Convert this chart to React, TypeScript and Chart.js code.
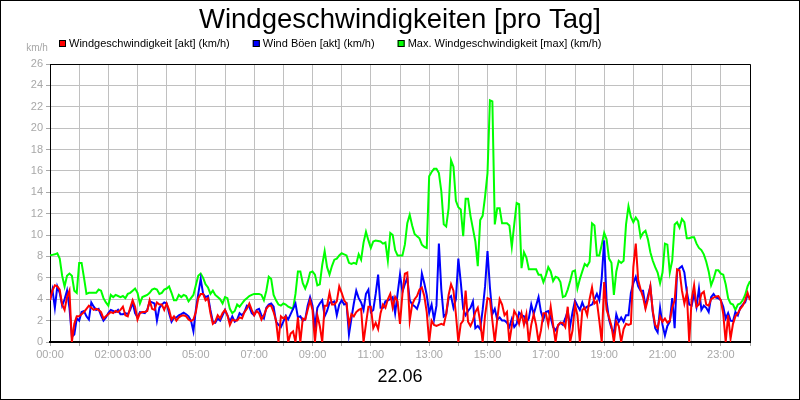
import React, { useEffect, useRef } from 'react';
import { Chart, registerables } from 'chart.js';

Chart.register(...registerables);

const TITLE = 'Windgeschwindigkeiten [pro Tag]';
const DATE_LABEL = '22.06';
const UNIT_LABEL = 'km/h';
const SERIES_NAMES = [
  'Windgeschwindigkeit [akt] (km/h)',
  'Wind Böen [akt] (km/h)',
  'Max. Windgeschwindigkeit [max] (km/h)',
];
const SERIES_COLORS = ['#ff0000', '#0000ff', '#00ff00'];

// one value every 5 minutes, 00:00 .. 24:00 (one hour per row)
const SAMPLE_MINUTES = 5;

const windSpeed = [
  3.9, 4.8, 5.3, 5.2, 4.9, 3.5, 3.0, 4.2, 4.8, 0, 1.7, 2.4,
  2.4, 2.6, 2.8, 3.1, 3.4, 3.2, 3.0, 3.1, 3.0, 2.8, 2.2, 2.4,
  2.6, 2.8, 2.7, 2.9, 2.8, 3.0, 3.3, 2.5, 2.4, 3.2, 3.9, 3.3,
  2.1, 2.7, 2.8, 2.8, 2.9, 3.9, 3.1, 3.0, 3.7, 3.5, 3.5, 3.0,
  3.6, 3.0, 2.1, 2.4, 2.0, 2.3, 2.45, 2.5, 2.4, 2.1, 1.95, 2.1,
  2.8, 4.1, 4.5, 4.5, 3.9, 4.1, 2.7, 1.7, 1.9, 2.5, 2.2, 2.7,
  3.0, 2.5, 1.6, 2.1, 2.0, 2.0, 2.3, 2.2, 2.8, 3.1, 3.6, 3.0,
  2.5, 2.9, 2.7, 2.1, 2.5, 3.1, 3.4, 3.4, 2.8, 2.0, 0, 2.4,
  2.2, 2.4, 0, 0.8, 1.0, 0, 2.3, 0, 2.2, 2.1, 3.0, 3.9,
  3.0, 0, 2.5, 1.5, 0, 3.4, 3.4, 4.6, 3.5, 3.5, 3.8, 5.2,
  4.6, 3.9, 3.6, 1.6, 2.6, 2.4, 2.8, 3.0, 3.1, 0, 1.7, 3.3,
  3.3, 1.3, 1.8, 1.2, 2.7, 3.5, 3.2, 4.0, 4.5, 3.2, 4.2, 3.8,
  1.7, 4.5, 6.4, 6.5, 2.0, 3.5, 4.0, 4.3, 4.9, 5.1, 4.3, 2.8,
  0, 2.0, 1.6, 1.5, 1.6, 1.7, 1.6, 2.6, 4.4, 5.4, 4.8, 2.6,
  0, 1.7, 2.0, 4.8, 1.9, 1.5, 2.0, 2.8, 3.2, 1.9, 0, 2.5,
  4.1, 4.0, 2.0, 0, 2.1, 4.0, 3.5, 2.5, 2.8, 0, 1.5, 2.9,
  2.5, 1.7, 2.7, 1.6, 2.6, 0, 1.6, 2.6, 1.6, 0, 1.1, 2.7,
  2.7, 1.6, 3.3, 1.6, 0, 1.6, 1.8, 1.8, 1.4, 3.3, 0, 1.1,
  3.5, 2.5, 0, 3.0, 3.2, 2.5, 4.0, 5.1, 3.6, 3.8, 2.0, 0,
  5.6, 3.0, 2.3, 1.5, 0, 1.9, 1.5, 0, 1.2, 1.7, 1.6, 1.7,
  7.0, 9.2, 5.8, 4.9, 4.2, 3.1, 4.0, 5.2, 2.9, 1.6, 1.3, 2.4,
  1.9, 2.2, 1.8, 2.0, 3.2, 3.9, 6.8, 6.7, 4.8, 3.6, 4.6, 0,
  4.0, 5.3, 3.3, 3.5, 4.5, 4.7, 3.5, 3.4, 4.0, 4.15, 4.25, 4.3,
  3.9, 2.6, 0, 2.5, 0.3, 1.7, 2.4, 2.7, 3.1, 3.4, 3.9, 4.6,
  3.9,
];

const windGusts = [
  3.9, 4.9, 3.2, 5.2, 4.6, 3.4, 4.0, 4.8, 3.2, 0.5, 0.7, 2.2,
  2.0, 2.8, 2.9, 2.4, 2.1, 3.7, 3.3, 3.0, 3.1, 2.5, 2.0, 2.3,
  2.7, 3.0, 2.9, 2.8, 3.0, 2.6, 2.6, 2.7, 2.6, 3.0, 3.7, 2.7,
  2.3, 2.8, 2.75, 2.7, 3.0, 3.8, 3.7, 3.6, 2.0, 3.2, 3.5, 3.7,
  3.6, 2.7, 1.9, 2.3, 2.3, 2.5, 2.6, 2.75, 2.6, 2.4, 2.0, 1.0,
  3.0, 4.5, 5.9, 4.5, 4.2, 4.3, 3.0, 1.9, 1.8, 2.2, 2.0, 2.5,
  3.0, 2.5, 1.9, 2.4, 1.9, 2.1, 2.7, 2.5, 2.8, 3.4, 3.3, 2.7,
  2.5, 3.0, 3.1, 2.5, 2.2, 3.2, 3.5, 3.6, 3.3, 1.9, 1.6, 1.4,
  1.9, 2.45, 2.1, 2.6, 3.1, 3.6, 2.3, 2.4, 2.0, 2.1, 3.4, 4.2,
  3.4, 1.4, 3.2, 3.6, 3.9, 2.4, 2.9, 3.7, 3.7, 3.8, 2.5, 3.5,
  3.9, 3.5, 3.6, 0.7, 2.2, 3.6, 4.8, 4.1, 3.7, 3.0, 4.5, 4.9,
  2.8, 3.0, 4.5, 6.3, 3.2, 3.2, 3.8, 3.9, 4.0, 4.2, 2.7, 4.5,
  6.3, 4.7, 5.4, 6.0, 3.9, 3.5, 3.35, 3.1, 3.8, 6.4, 5.5, 4.4,
  2.7, 3.5, 2.1, 3.4, 9.2, 4.9, 2.4, 2.6, 4.1, 4.3, 3.2, 4.0,
  7.8, 5.6, 3.1, 2.5, 2.9, 3.2, 3.8, 1.3, 1.5, 1.2, 3.0, 5.2,
  8.5, 5.1, 2.6, 3.1, 2.1, 2.3, 2.0, 2.0, 1.8, 1.4, 2.15, 1.4,
  1.7, 2.75, 2.5, 2.4, 1.8, 2.2, 3.5, 2.6, 3.4, 4.2, 2.8, 2.1,
  2.8, 2.9, 2.3, 1.4, 1.1, 1.5, 1.8, 1.6, 2.2, 2.9, 1.5, 2.8,
  3.85, 3.4, 3.0, 3.7, 3.1, 3.3, 3.4, 3.5, 4.0, 4.5, 3.9, 6.0,
  9.5, 3.8, 2.1, 1.3, 0.8, 2.6, 1.9, 2.3, 1.9, 2.5, 2.5, 4.6,
  5.5, 6.1, 5.2, 4.8, 4.8, 3.3, 4.3, 5.2, 2.8, 1.3, 0.9, 3.2,
  1.6, 0.6, 1.5, 1.9, 4.1, 1.3, 6.6, 6.9, 7.1, 6.5, 4.7, 3.5,
  3.4, 4.5, 3.3, 5.0, 3.0, 3.4, 3.2, 2.8, 4.2, 4.5, 4.15, 4.1,
  3.9, 3.3, 2.2, 2.7, 2.0, 1.95, 2.8, 2.5, 3.2, 3.5, 3.7, 4.4,
  4.1,
];

const windMax = [
  8.1, 8.15, 8.2, 8.3, 7.8, 6.2, 5.2, 6.2, 6.4, 6.2, 4.8, 4.6,
  7.4, 7.4, 6.0, 4.5, 4.6, 4.6, 4.6, 4.6, 4.9, 4.8, 4.1, 3.7,
  3.4, 4.4, 4.2, 4.4, 4.3, 4.2, 4.3, 4.1, 4.5, 4.6, 4.8, 5.0,
  4.6, 3.6, 4.2, 4.3, 4.4, 4.6, 4.9, 5.0, 4.9, 4.5, 4.6, 4.9,
  5.0, 5.2, 4.6, 3.9, 3.9, 4.4, 4.2, 4.4, 4.3, 3.8, 4.1, 4.4,
  5.3, 6.2, 6.4, 6.0, 5.4, 5.1, 4.5, 4.8, 4.4, 4.2, 4.0, 3.6,
  4.2, 4.1, 3.1, 2.7, 2.9, 3.5, 3.3, 3.6, 3.9, 4.1, 4.3, 4.4,
  4.5, 4.5, 4.5, 4.4, 3.9, 4.8, 6.1, 5.9, 4.4, 3.9, 3.5, 3.4,
  3.6, 3.5, 3.3, 3.2, 3.1, 4.5, 6.6, 6.6, 5.5, 5.0, 5.6, 6.5,
  6.6, 6.3, 5.3, 5.4, 7.2, 8.5, 7.0, 6.3, 7.1, 7.7, 7.8, 8.1,
  8.3, 8.2, 8.1, 7.4, 7.3, 7.4, 7.3, 8.2, 7.7, 9.3, 10.3, 9.5,
  8.8, 9.4, 9.5, 9.45, 9.4, 9.2, 9.3, 7.6, 10.2, 10.0, 8.6, 8.1,
  8.1, 8.1, 9.1, 11.1, 11.9, 10.9, 10.1, 9.9, 9.7, 9.1, 8.9, 8.8,
  15.5, 15.9, 16.2, 16.2, 15.8, 14.1, 11.0, 10.8, 12.5, 17.0, 16.4, 13.2,
  12.6, 12.4, 9.9, 13.4, 13.4, 11.8, 10.6, 9.4, 7.1, 11.4, 11.8, 13.6,
  15.8, 22.6, 22.5, 11.0, 12.5, 12.5, 11.1, 11.1, 11.1, 10.9, 8.9, 11.0,
  13.0, 12.9, 6.9, 8.4, 7.9, 6.8, 6.8, 6.8, 6.8, 6.3, 6.3, 5.6,
  6.2, 7.0, 6.6, 5.7, 6.1, 6.0, 5.6, 4.2, 4.3, 4.9, 5.7, 6.6,
  6.7, 5.0, 5.9, 6.6, 7.3, 7.1, 7.5, 11.1, 10.9, 8.1, 8.1, 9.1,
  10.2, 9.6, 7.8, 7.4, 4.4, 6.6, 7.6, 7.4, 7.6, 11.0, 12.7, 11.7,
  11.2, 11.65, 11.3, 9.8, 10.2, 10.4, 9.6, 8.4, 7.6, 7.0, 6.5, 5.5,
  6.5, 9.2, 9.1, 6.5, 7.6, 11.0, 11.2, 10.7, 11.5, 11.2, 9.7, 9.7,
  9.8, 9.8, 9.2, 8.8, 8.6, 8.2, 7.5, 6.6, 5.3, 5.9, 6.7, 6.7,
  6.4, 6.3, 5.4, 4.1, 3.6, 3.5, 3.0, 3.5, 3.6, 3.9, 4.4, 5.2,
  5.7,
];

const X_TICK_HOURS = [0, 2, 3, 5, 7, 9, 11, 13, 15, 17, 19, 21, 23];
const X_TICK_LABELS = ['00:00', '02:00', '03:00', '05:00', '07:00', '09:00', '11:00', '13:00', '15:00', '17:00', '19:00', '21:00', '23:00'];
const Y_MAX = 26;
const Y_STEP = 2;

const toPoints = (values: number[]) =>
  values.map((v, i) => ({ x: (i * SAMPLE_MINUTES) / 60, y: v }));

const FONT = 'Liberation Sans, Arial, sans-serif';

const decorPlugin = {
  id: 'decor',
  afterDraw(chart: any) {
    const { ctx, chartArea: a, width, height } = chart;
    ctx.save();
    // plot frame (top and right)
    ctx.strokeStyle = '#000';
    ctx.lineWidth = 1;
    ctx.beginPath();
    ctx.moveTo(a.left, a.top + 0.5);
    ctx.lineTo(a.right + 0.5, a.top + 0.5);
    ctx.lineTo(a.right + 0.5, a.bottom);
    ctx.stroke();
    // outer border
    ctx.strokeRect(0.5, 0.5, width - 1, height - 1);

    // title
    ctx.font = `27.5px ${FONT}`;
    ctx.fillStyle = '#000';
    ctx.textAlign = 'center';
    ctx.textBaseline = 'middle';
    ctx.fillText(TITLE, width / 2, 20);

    // legend
    ctx.font = `11px ${FONT}`;
    ctx.textAlign = 'left';
    let x = 59;
    const y = 44;
    SERIES_NAMES.forEach((name, i) => {
      ctx.fillStyle = SERIES_COLORS[i];
      ctx.fillRect(x, y - 4, 7, 7);
      ctx.strokeStyle = '#000';
      ctx.strokeRect(x + 0.5, y - 3.5, 6, 6);
      ctx.fillStyle = '#000';
      ctx.fillText(name, x + 10, y);
      x += 10 + ctx.measureText(name).width + 23;
    });

    // unit label
    ctx.font = `10px ${FONT}`;
    ctx.fillStyle = '#a8a8a8';
    ctx.textAlign = 'center';
    ctx.fillText(UNIT_LABEL, 37, 48);

    // date label
    ctx.font = `18px ${FONT}`;
    ctx.fillStyle = '#000';
    ctx.fillText(DATE_LABEL, width / 2, 377);
    ctx.restore();
  },
};

export default function App() {
  const ref = useRef<HTMLCanvasElement | null>(null);

  useEffect(() => {
    document.body.style.margin = '0';
    const canvas = ref.current;
    if (!canvas) return;
    const chart = new Chart(canvas, {
      type: 'line',
      data: {
        datasets: [
          { label: SERIES_NAMES[0], data: toPoints(windSpeed), borderColor: SERIES_COLORS[0], backgroundColor: SERIES_COLORS[0] },
          { label: SERIES_NAMES[1], data: toPoints(windGusts), borderColor: SERIES_COLORS[1], backgroundColor: SERIES_COLORS[1] },
          { label: SERIES_NAMES[2], data: toPoints(windMax), borderColor: SERIES_COLORS[2], backgroundColor: SERIES_COLORS[2] },
        ],
      },
      options: {
        responsive: false,
        animation: false,
        devicePixelRatio: 1,
        elements: {
          point: { radius: 0, hoverRadius: 0 },
          line: { borderWidth: 2, tension: 0, fill: false },
        },
        layout: { padding: { left: 0, right: 50, top: 64, bottom: 0 } },
        plugins: {
          legend: { display: false },
          tooltip: { enabled: false },
          title: { display: false },
        },
        scales: {
          x: {
            type: 'linear',
            min: 0,
            max: 24,
            afterFit: (s: any) => { s.height = 58; },
            ticks: {
              stepSize: 1,
              autoSkip: false,
              maxRotation: 0,
              minRotation: 0,
              color: '#a8a8a8',
              font: { family: FONT, size: 11 },
              padding: 2,
              callback: (v: any) => {
                const i = X_TICK_HOURS.indexOf(Number(v));
                return i >= 0 ? X_TICK_LABELS[i] : '';
              },
            },
            grid: { color: '#c0c0c0', tickLength: 4, tickColor: '#a8a8a8' },
            border: { color: '#000', width: 2 },
          },
          y: {
            min: 0,
            max: Y_MAX,
            afterFit: (s: any) => { s.width = 50; },
            ticks: {
              stepSize: Y_STEP,
              color: '#a8a8a8',
              font: { family: FONT, size: 11 },
              padding: 3,
            },
            grid: { color: '#c0c0c0', tickLength: 4, tickColor: '#a8a8a8' },
            border: { color: '#000', width: 1 },
          },
        },
      },
      plugins: [decorPlugin],
    });
    return () => chart.destroy();
  }, []);

  return <canvas ref={ref} width={800} height={400} style={{ display: 'block', width: 800, height: 400 }} />;
}
